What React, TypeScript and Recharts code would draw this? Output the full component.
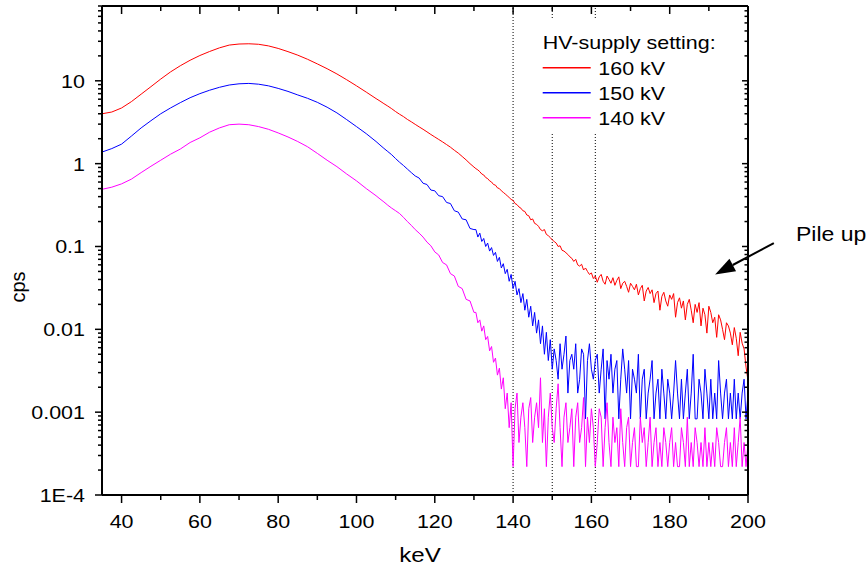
import React from 'react';
import { LineChart, Line, XAxis, YAxis, ReferenceLine } from 'recharts';

const FONT = '"Liberation Sans", Arial, Helvetica, sans-serif';
const STRETCH = 1.13;

// channel energies (keV): coarse part, 1 keV part, then 0.5 keV tail
const keVCoarse = [35, 37.5, 40, 42.5, 45, 47.5, 50, 52.5, 55, 57.5, 60, 62.5, 65, 67.5, 70, 72.5, 75, 77.5, 80, 82.5, 85, 87.5, 90, 92.5, 95, 97.5, 100, 102.5, 105];
const keVMid = [106, 107, 108, 109, 110, 111, 112, 113, 114, 115, 116, 117, 118, 119, 120, 121, 122, 123, 124, 125, 126, 127, 128, 129, 130];
const tailStart = 130.5;
const tailStep = 0.5;

// cps, 160 kV
const kv160Coarse = [4.0, 4.2, 4.7, 5.6, 6.9, 8.5, 10.5, 12.8, 15.2, 17.7, 20.2, 22.6, 25.0, 27.0, 27.8, 28.0, 27.6, 26.4, 24.6, 22.5, 20.4, 18.2, 16.0, 14.0, 12.1, 10.3, 8.7, 7.3, 6.1];
const kv160Mid = [5.7, 5.3, 4.95, 4.6, 4.25, 3.95, 3.7, 3.42, 3.2, 2.98, 2.78, 2.6, 2.42, 2.25, 2.1, 1.96, 1.83, 1.7, 1.58, 1.45, 1.34, 1.22, 1.11, 1.0, 0.91];
const kv160Tail = [
  0.87, 0.84, 0.80, 0.75, 0.73, 0.68, 0.66, 0.62, 0.60, 0.56,
  0.55, 0.51, 0.50, 0.47, 0.45, 0.43, 0.41, 0.39, 0.37, 0.36,
  0.33, 0.32, 0.30, 0.29, 0.27, 0.265, 0.24, 0.235, 0.21, 0.215,
  0.19, 0.185, 0.175, 0.16, 0.155, 0.16, 0.14, 0.135, 0.128, 0.12,
  0.115, 0.11, 0.1, 0.102, 0.09, 0.088, 0.084, 0.08, 0.075, 0.072,
  0.066, 0.07, 0.06, 0.058, 0.061, 0.052, 0.055, 0.05, 0.046, 0.048,
  0.041, 0.044, 0.037, 0.043, 0.046, 0.038, 0.035, 0.044, 0.04, 0.036,
  0.042, 0.034, 0.039, 0.043, 0.031, 0.036, 0.038, 0.033, 0.028, 0.036,
  0.033, 0.03, 0.035, 0.026, 0.031, 0.034, 0.022, 0.029, 0.032, 0.027,
  0.03, 0.021, 0.027, 0.029, 0.017, 0.025, 0.028, 0.022, 0.019, 0.026,
  0.023, 0.027, 0.014, 0.021, 0.024, 0.018, 0.022, 0.013, 0.02, 0.023,
  0.017, 0.012, 0.02, 0.016, 0.021, 0.011, 0.018, 0.015, 0.009, 0.019,
  0.016, 0.012, 0.014, 0.008, 0.015, 0.013, 0.01, 0.0075, 0.012, 0.011,
  0.009, 0.0065, 0.0105, 0.0078, 0.0048, 0.0092, 0.0068, 0.0058, 0.0035, 0.0024,
];

// cps, 150 kV
const kv150Coarse = [1.38, 1.52, 1.72, 2.15, 2.7, 3.3, 4.0, 4.7, 5.45, 6.25, 7.0, 7.7, 8.35, 8.9, 9.2, 9.3, 9.1, 8.7, 8.1, 7.45, 6.75, 6.15, 5.5, 4.8, 4.1, 3.4, 2.8, 2.3, 1.85];
const kv150Mid = [1.68, 1.53, 1.4, 1.28, 1.15, 1.04, 0.95, 0.86, 0.78, 0.71, 0.67, 0.58, 0.56, 0.48, 0.47, 0.41, 0.4, 0.34, 0.33, 0.27, 0.26, 0.215, 0.21, 0.165, 0.16];
const kv150Tail = [
  0.16, 0.13, 0.145, 0.115, 0.125, 0.1, 0.11, 0.088, 0.097, 0.078,
  0.085, 0.066, 0.074, 0.055, 0.062, 0.047, 0.053, 0.038, 0.046, 0.031,
  0.038, 0.026, 0.031, 0.021, 0.027, 0.017, 0.023, 0.014, 0.019, 0.011,
  0.016, 0.009, 0.013, 0.0067, 0.011, 0.005, 0.0092, 0.0042, 0.0075, 0.0033,
  0.0058, 0.0042, 0.0025, 0.0067, 0.0033, 0.005, 0.0083, 0.0017, 0.0042, 0.005,
  0.0033, 0.0067, 0.0017, 0.0025, 0.0058, 0.005, 0.00083, 0.0042, 0.0067, 0.0033,
  0.0025, 0.0042, 0.005, 0.0017, 0.0033, 0.0058, 0.00083, 0.0042, 0.0025, 0.005,
  0.0017, 0.0033, 0.0042, 0.00083, 0.0025, 0.0058, 0.0033, 0.0017, 0.0042, 0.00083,
  0.0033, 0.0025, 0.0017, 0.005, 0.00083, 0.0025, 0.0033, 0.00083, 0.0017, 0.0025,
  0.0042, 0.00083, 0.0017, 0.0025, 0.00083, 0.0033, 0.0017, 0.00083, 0.0025, 0.0017,
  0.00083, 0.0017, 0.0042, 0.0017, 0.00083, 0.0025, 0.00083, 0.0017, 0.0033, 0.00083,
  0.0017, 0.005, 0.00083, 0.00083, 0.0025, 0.0017, 0.00083, 0.0033, 0.0017, 0.00083,
  0.0025, 0.00083, 0.0017, 0.00083, 0.0042, 0.0017, 0.00083, 0.0017, 0.0025, 0.00083,
  0.0017, 0.00083, 0.0025, 0.00083, 0.0017, 0.00083, 0.0017, 0.0025, 0.00083, 0.0017,
];

// cps, 140 kV
const kv140Coarse = [0.49, 0.52, 0.57, 0.65, 0.78, 0.93, 1.1, 1.3, 1.5, 1.8, 2.05, 2.4, 2.7, 2.95, 3.0, 2.95, 2.8, 2.6, 2.35, 2.1, 1.85, 1.6, 1.33, 1.1, 0.92, 0.75, 0.62, 0.5, 0.41];
const kv140Mid = [0.375, 0.345, 0.315, 0.29, 0.27, 0.25, 0.225, 0.2, 0.18, 0.16, 0.145, 0.13, 0.113, 0.102, 0.086, 0.079, 0.064, 0.06, 0.047, 0.044, 0.033, 0.031, 0.023, 0.022, 0.016];
const kv140Tail = [
  0.016, 0.012, 0.013, 0.0095, 0.011, 0.0075, 0.0082, 0.0055, 0.0062, 0.004,
  0.0045, 0.0028, 0.0034, 0.0019, 0.0026, 0.0011, 0.0017, 0.00065, 0.0013, 0.00022,
  0.0011, 0.0017, 0.00043, 0.00087, 0.0013, 0.00065, 0.00022, 0.0011, 0.0015, 0.00043,
  0.00087, 0.0013, 0.00065, 0.0026, 0.00043, 0.0011, 0.00022, 0.00087, 0.0017, 0.00065,
  0.00043, 0.0011, 0.0022, 0.00065, 0.00022, 0.00087, 0.0013, 0.00043, 0.00065, 0.0011,
  0.00022, 0.00087, 0.0013, 0.00043, 0.00065, 0.0015, 0.00022, 0.00087, 0.00043, 0.0011,
  0.00065, 0.00022, 0.00043, 0.0011, 0.00087, 0.00022, 0.00065, 0.0013, 0.00043, 0.00022,
  0.00087, 0.00043, 0.00065, 0.00022, 0.0011, 0.00043, 0.00022, 0.00065, 0.00087, 0.00022,
  0.00043, 0.00065, 0.00022, 0.00022, 0.00087, 0.00043, 0.00065, 0.00022, 0.00043, 0.00087,
  0.00022, 0.00043, 0.00065, 0.00022, 0.00043, 0.00022, 0.00065, 0.00043, 0.00022, 0.00043,
  0.00065, 0.00022, 0.00043, 0.00022, 0.00022, 0.00065, 0.00043, 0.00022, 0.00087, 0.00022,
  0.00043, 0.00022, 0.00065, 0.00043, 0.00022, 0.00043, 0.00022, 0.00065, 0.00022, 0.00043,
  0.00022, 0.00043, 0.00022, 0.00065, 0.00043, 0.00022, 0.00022, 0.00043, 0.00065, 0.00022,
  0.00043, 0.00022, 0.00065, 0.00022, 0.00043, 0.00087, 0.00022, 0.00043, 0.00022, 0.00043,
];

const xTicks = [40, 50, 60, 70, 80, 90, 100, 110, 120, 130, 140, 150, 160, 170, 180, 190, 200];
const yDecades = [0.0001, 0.001, 0.01, 0.1, 1, 10];
const yDecadeLabels = ['1E-4', '0.001', '0.01', '0.1', '1', '10'];
const yMinorSteps = [2, 3, 4, 5, 6, 7, 8, 9];
const markerKeV = [140, 150, 161];

const series = [
  { name: '160 kV', color: '#ff0000', coarse: kv160Coarse, mid: kv160Mid, tail: kv160Tail },
  { name: '150 kV', color: '#0000ff', coarse: kv150Coarse, mid: kv150Mid, tail: kv150Tail },
  { name: '140 kV', color: '#ff00ff', coarse: kv140Coarse, mid: kv140Mid, tail: kv140Tail },
];

// pile-up arrow, from tail to tip (keV, cps)
const pileUpArrow = [{ x: 206.6, y: 0.11 }, { x: 191.6, y: 0.046 }];

function toPoints(coarse: number[], mid: number[], tail: number[]) {
  const pts: { keV: number; cps: number }[] = [];
  coarse.forEach((v, i) => pts.push({ keV: keVCoarse[i], cps: v }));
  mid.forEach((v, i) => pts.push({ keV: keVMid[i], cps: v }));
  tail.forEach((v, i) => pts.push({ keV: tailStart + i * tailStep, cps: v }));
  return pts;
}

const yTicks = yDecades
  .flatMap((d) => [d, ...yMinorSteps.map((m) => d * m)])
  .filter((v) => v <= 80);

const decadeIndex = (v: number) => yDecades.findIndex((d) => Math.abs(v / d - 1) < 1e-9);

const labelStyle = { fontFamily: FONT, fontSize: 19, fill: '#000' };

function LeftTick({ x, y, payload }: any) {
  const i = decadeIndex(payload.value);
  const major = i >= 0;
  return (
    <g>
      <line x1={x} y1={y} x2={x - (major ? 7 : 4)} y2={y} stroke="#000" strokeWidth={1.5} />
      {major && (
        <text transform={`translate(${x - 17},${y}) scale(${STRETCH},1)`} textAnchor="end" dy="0.36em" style={labelStyle}>
          {yDecadeLabels[i]}
        </text>
      )}
    </g>
  );
}

function RightTick({ x, y, payload }: any) {
  const major = decadeIndex(payload.value) >= 0;
  return <line x1={x} y1={y} x2={x - (major ? 6 : 3.5)} y2={y} stroke="#000" strokeWidth={1.5} />;
}

function BottomTick({ x, y, payload }: any) {
  const major = payload.value % 20 === 0;
  return (
    <g>
      <line x1={x} y1={y} x2={x} y2={y + (major ? 8 : 5)} stroke="#000" strokeWidth={1.5} />
      {major && (
        <text transform={`translate(${x},${y + 33}) scale(${STRETCH},1)`} textAnchor="middle" style={labelStyle}>
          {payload.value}
        </text>
      )}
    </g>
  );
}

function TopTick({ x, y, payload }: any) {
  const major = payload.value % 20 === 0;
  return <line x1={x} y1={y} x2={x} y2={y + (major ? 8 : 5)} stroke="#000" strokeWidth={1.5} />;
}

function ArrowShape({ x1, y1, x2, y2 }: any) {
  const dx = x2 - x1;
  const dy = y2 - y1;
  const len = Math.sqrt(dx * dx + dy * dy);
  const ux = dx / len;
  const uy = dy / len;
  const head = 20;
  const half = 7;
  const bx = x2 - ux * head;
  const by = y2 - uy * head;
  return (
    <g>
      <line x1={x1} y1={y1} x2={bx} y2={by} stroke="#000" strokeWidth={2} />
      <polygon
        points={`${x2},${y2} ${bx - uy * half},${by + ux * half} ${bx + uy * half},${by - ux * half}`}
        fill="#000"
      />
    </g>
  );
}

const axisLine = { stroke: '#000', strokeWidth: 2 };

export default function App() {
  return (
    <div style={{ position: 'absolute', left: 0, top: 0, width: 868, height: 569, background: '#fff' }}>
      <LineChart width={868} height={569} margin={{ top: 4, right: 110, bottom: 44, left: 42 }} style={{ fontFamily: FONT }}>
        <XAxis
          dataKey="keV"
          type="number"
          domain={[35, 200]}
          ticks={xTicks}
          interval={0}
          allowDataOverflow
          height={30}
          tickSize={0}
          tickMargin={0}
          tickLine={false}
          axisLine={axisLine}
          tick={(p: any) => <BottomTick {...p} />}
        />
        <XAxis
          xAxisId="top"
          orientation="top"
          dataKey="keV"
          type="number"
          domain={[35, 200]}
          ticks={xTicks}
          interval={0}
          allowDataOverflow
          height={2}
          tickSize={0}
          tickMargin={0}
          tickLine={false}
          axisLine={axisLine}
          tick={(p: any) => <TopTick {...p} />}
        />
        <YAxis
          type="number"
          scale="log"
          domain={[0.0001, 80]}
          ticks={yTicks}
          interval={0}
          allowDataOverflow
          width={60}
          tickSize={0}
          tickMargin={0}
          tickLine={false}
          axisLine={axisLine}
          tick={(p: any) => <LeftTick {...p} />}
        />
        <YAxis
          yAxisId="right"
          orientation="right"
          type="number"
          scale="log"
          domain={[0.0001, 80]}
          ticks={yTicks}
          interval={0}
          allowDataOverflow
          width={10}
          tickSize={0}
          tickMargin={0}
          tickLine={false}
          axisLine={axisLine}
          tick={(p: any) => <RightTick {...p} />}
        />
        {markerKeV.map((k) => (
          <ReferenceLine key={k} x={k} stroke="#000" strokeWidth={1} strokeDasharray="1 2" />
        ))}
        {series.map((s) => (
          <Line
            key={s.name}
            data={toPoints(s.coarse, s.mid, s.tail)}
            dataKey="cps"
            type="linear"
            stroke={s.color}
            strokeWidth={1}
            dot={false}
            activeDot={false}
            isAnimationActive={false}
          />
        ))}
        <ReferenceLine segment={pileUpArrow} ifOverflow="visible" shape={(p: any) => <ArrowShape {...p} />} />
      </LineChart>
      <svg width={868} height={569} style={{ position: 'absolute', left: 0, top: 0, pointerEvents: 'none' }}>
        <rect x={538} y={20} width={202} height={113} fill="#fff" />
        <text transform={`translate(542.7,49) scale(${STRETCH},1)`} style={labelStyle}>
          HV-supply setting:
        </text>
        {series.map((s, i) => (
          <g key={s.name}>
            <line x1={542.7} x2={590.7} y1={67.7 + i * 25} y2={67.7 + i * 25} stroke={s.color} strokeWidth={1.5} />
            <text transform={`translate(598.3,${75 + i * 25}) scale(${STRETCH},1)`} style={labelStyle}>
              {s.name}
            </text>
          </g>
        ))}
        <text transform="translate(25,287) rotate(-90)" textAnchor="middle" style={{ ...labelStyle, fontSize: 20 }}>
          cps
        </text>
        <text transform={`translate(420,562) scale(1.15,1)`} textAnchor="middle" style={{ ...labelStyle, fontSize: 21 }}>
          keV
        </text>
        <text transform={`translate(796,241) scale(1.15,1)`} style={{ ...labelStyle, fontSize: 20 }}>
          Pile up
        </text>
      </svg>
    </div>
  );
}
